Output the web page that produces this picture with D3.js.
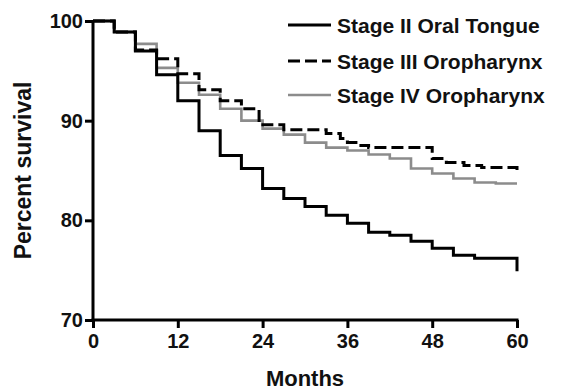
<!DOCTYPE html>
<html><head><meta charset="utf-8">
<script src="https://cdn.jsdelivr.net/npm/d3@7"></script>
<style>
body{margin:0;background:#fff;}
text{font-family:Arial,"Liberation Sans",sans-serif;font-weight:bold;}
</style></head>
<body><svg id="c" width="568" height="390"></svg>
<script>
const seriesNames = ["Stage II Oral Tongue", "Stage III Oropharynx", "Stage IV Oropharynx"];
const stage2Tongue = [[0,100],[3,98.9],[6,97.0],[9,94.6],[12,92.0],[15,89.0],[18,86.5],[21,85.2],[24,83.2],[27,82.2],[30,81.4],[33,80.5],[36,79.7],[39,78.8],[42,78.5],[45,77.9],[48,77.2],[51,76.5],[54,76.2],[60,74.9]];
const stage3Oro = [[0,100],[3,98.9],[6,97.1],[9,96.2],[12,94.7],[15,93.1],[18,92.0],[21,91.2],[23.5,89.6],[27,89.1],[33,88.7],[35,88.2],[36,87.8],[37.5,87.5],[39,87.3],[48,86.2],[50,85.8],[52.5,85.5],[55,85.3],[60,85.0]];
const stage4Oro = [[0,100],[3,98.9],[6,97.7],[9,95.3],[12,93.8],[15,92.6],[18,91.2],[21,90.0],[24,89.2],[27,88.6],[30,87.8],[33,87.3],[36,87.0],[39,86.6],[42,86.2],[45,85.2],[48,84.7],[51,84.2],[54,83.8],[57,83.7],[60,83.7]];
const xTicks = [0,12,24,36,48,60];
const yTicks = [70,80,90,100];

const svg = d3.select("#c");
const m = {l:93, r:51, t:21, b:70};
const W = 568, H = 390;
const x = d3.scaleLinear().domain([0,60]).range([m.l, W-m.r]);
const y = d3.scaleLinear().domain([70,100]).range([H-m.b, m.t]);

const styles = [
  {color:"#000", width:3, dash:null},
  {color:"#000", width:3, dash:"12,5"},
  {color:"#8c8c8c", width:2.6, dash:null}
];
const data = [stage2Tongue, stage3Oro, stage4Oro];
const line = d3.line().x(d=>x(d[0])).y(d=>y(d[1])).curve(d3.curveStepAfter);

[2,1,0].forEach(i=>{
  svg.append("path").attr("d", line(data[i])).attr("fill","none")
    .attr("stroke", styles[i].color).attr("stroke-width", styles[i].width)
    .attr("stroke-dasharray", styles[i].dash);
});

const xa = svg.append("g").attr("transform",`translate(0,${H-m.b})`)
  .call(d3.axisBottom(x).tickValues(xTicks).tickSize(8).tickPadding(6).tickSizeOuter(0));
const ya = svg.append("g").attr("transform",`translate(${m.l},0)`)
  .call(d3.axisLeft(y).tickValues(yTicks).tickSize(8).tickPadding(2).tickSizeOuter(0));
[xa,ya].forEach(a=>{
  a.select(".domain").attr("stroke","#000").attr("stroke-width",3);
  a.selectAll(".tick line").attr("stroke","#000").attr("stroke-width",3);
  a.selectAll(".tick text").attr("fill","#111").style("font-size","20px").style("font-weight","bold");
});
ya.select(".domain").attr("d", `M0,${y(100)}V${y(70)+1.5}`);
xa.select(".domain").attr("d", `M${x(0)-1.5},0H${x(60)+1.5}`);

svg.append("text").attr("x",(x(0)+x(60))/2).attr("y",386).attr("text-anchor","middle")
  .style("font-size","22px").attr("fill","#111").text("Months");
svg.append("text").attr("transform",`translate(31,${(y(70)+y(100))/2}) rotate(-90)`)
  .attr("text-anchor","middle").style("font-size","23px").attr("fill","#111").text("Percent survival");

const legY = [25, 61, 95];
seriesNames.forEach((n,i)=>{
  svg.append("line").attr("x1",288).attr("x2",331).attr("y1",legY[i]).attr("y2",legY[i])
    .attr("stroke",styles[i].color).attr("stroke-width",styles[i].width).attr("stroke-dasharray",styles[i].dash);
  svg.append("text").attr("x",337).attr("y",legY[i]).attr("dy","0.36em")
    .style("font-size","21px").attr("fill","#111").text(n);
});
</script></body></html>
